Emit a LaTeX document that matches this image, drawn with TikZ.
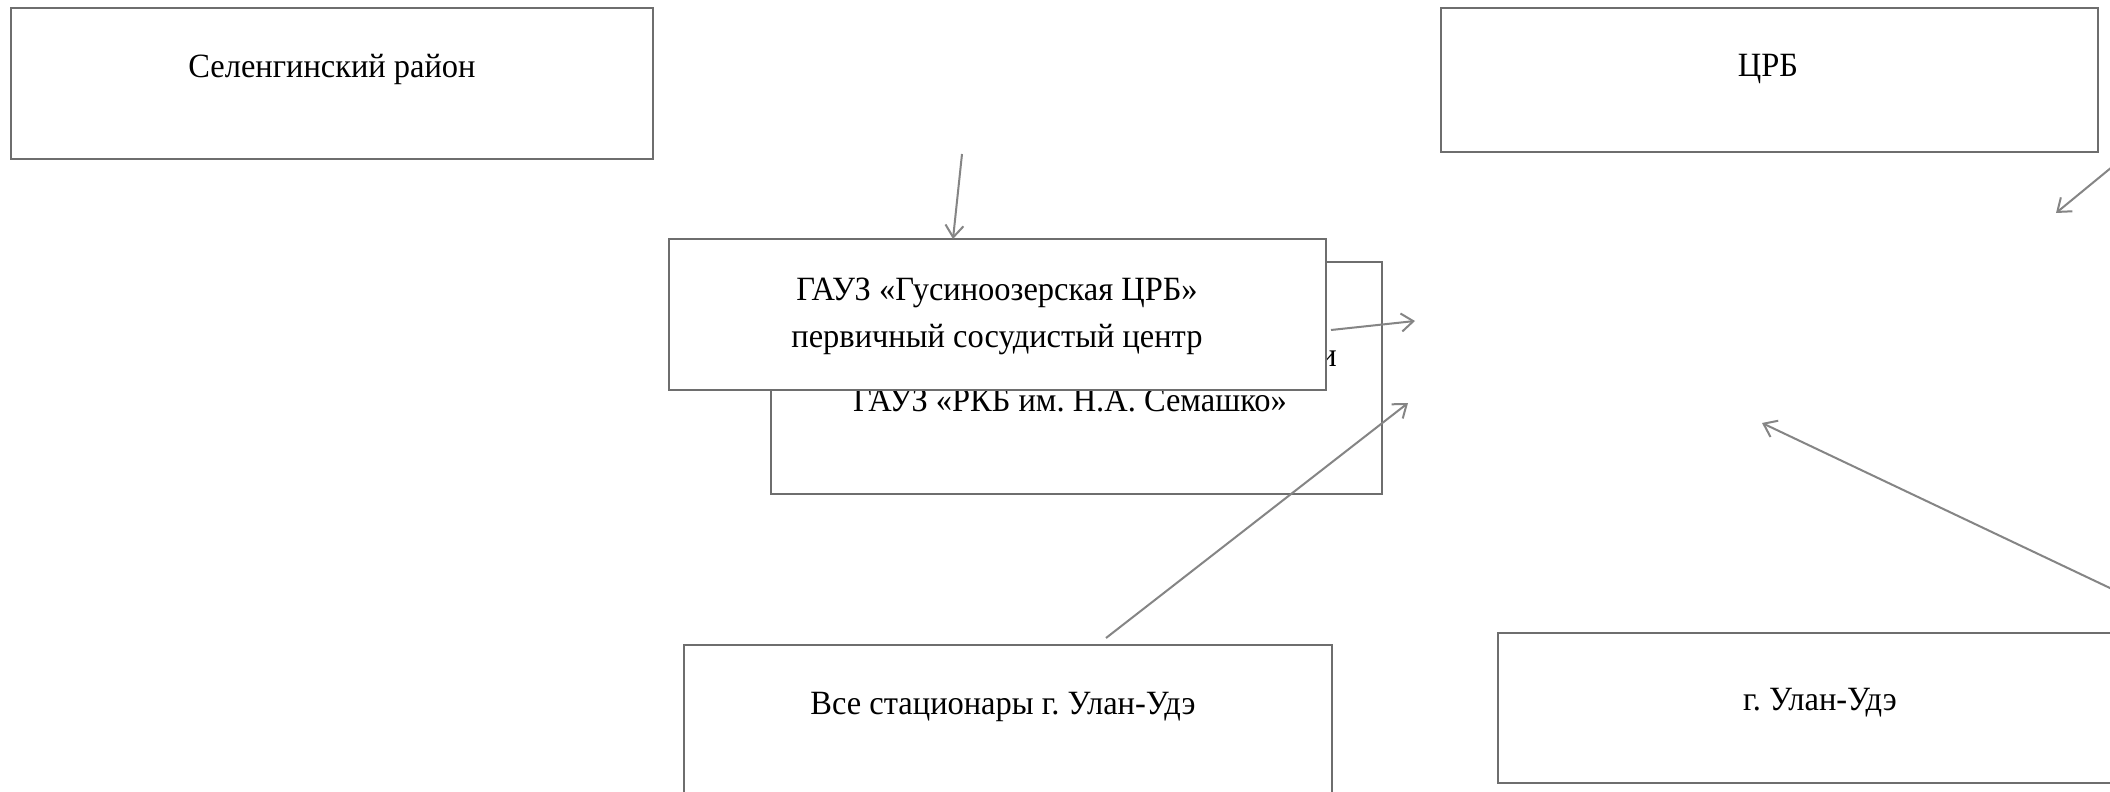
\documentclass[tikz,border=0pt]{standalone}
\usepackage{fontspec}
\setmainfont{Liberation Serif}[FakeStretch=0.955]
\usetikzlibrary{arrows.meta}
\definecolor{boxgray}{HTML}{6E6E6E}
\definecolor{arrgray}{HTML}{858585}
\frenchspacing
\begin{document}
\begin{tikzpicture}[x=0.5pt,y=-0.5pt,
  boxstyle/.style={draw=boxgray, line width=0.7pt, fill=white, rectangle, inner sep=0pt, outer sep=0pt},
  lbl/.style={font=\fontsize{17}{23.5}\selectfont, align=center, inner sep=0pt, text=black, anchor=base},
  conn/.style={draw=arrgray, line width=1pt, -{Straight Barb[length=6pt,width=9pt]}}]
\useasboundingbox (0,0) rectangle (2110,792);
\clip (0,0) rectangle (2110,792);
\fill[white] (0,0) rectangle (2110,792);

% top boxes
\node[boxstyle, minimum width=321pt, minimum height=75.5pt] (sel) at (332,83.5) {};
\node[lbl] (selt) at (332,78) {Селенгинский район};
\node[boxstyle, minimum width=328.5pt, minimum height=72pt] (crb) at (1769.5,80) {};
\node[lbl] (crbt) at (1768,77) {ЦРБ};

% back box
\node[boxstyle, minimum width=305.5pt, minimum height=116pt] (rkb) at (1076.5,378) {};
\node[lbl] (rkbi) at (1328,366) {и};
\node[lbl] (rkbt) at (1070,411) {ГАУЗ «РКБ им. Н.А. Семашко»};

% front box
\node[boxstyle, minimum width=328.5pt, minimum height=75.5pt] (gus) at (997.5,314.5) {};
\node[lbl] (gust) at (997,347) {ГАУЗ «Гусиноозерская ЦРБ»\\первичный сосудистый центр};

% bottom boxes
\node[boxstyle, minimum width=324pt, minimum height=100pt] (all) at (1008,745) {};
\node[lbl] (allt) at (1003,714) {Все стационары г. Улан-Удэ};
\node[boxstyle, minimum width=322pt, minimum height=75pt] (ulan) at (1820,708) {};
\node[lbl] (ulant) at (1820,710) {г. Улан-Удэ};

% free ends of connectors
\coordinate (a1s) at (962,154);
\coordinate (a2s) at (1331,330);
\coordinate (a2e) at (1415,321);
\coordinate (a3s) at (1106,638);
\coordinate (a3e) at (1408,403);
\coordinate (a4s) at (2112,167);
\coordinate (a4e) at (2056,213);
\coordinate (a5s) at (2112,589);
\coordinate (a5e) at (1762,423);

\draw[conn] (a1s) -- (gus.north -| 953,0);
\draw[conn] (a2s) -- (a2e);
\draw[conn] (a3s) -- (a3e);
\draw[conn] (a4s) -- (a4e);
\draw[conn] (a5s) -- (a5e);
\end{tikzpicture}
\end{document}
